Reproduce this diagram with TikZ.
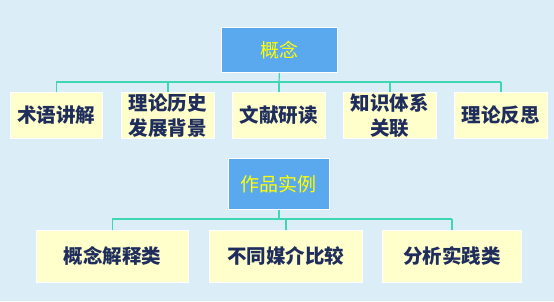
\documentclass[tikz,border=0pt]{standalone}
\usepackage{fontspec}
\newfontfamily\cjk{Noto Sans CJK SC}
\definecolor{bg}{HTML}{DBEEF8}
\definecolor{headfill}{HTML}{5AA8EE}
\definecolor{leaffill}{HTML}{FFFFCC}
\definecolor{linkc}{HTML}{3FD6B4}
\definecolor{txt}{HTML}{1F2D5C}
\definecolor{headtxt}{HTML}{FFFF00}
\tikzset{
  px/.style={x=1pt,y=-1pt},
  head/.style={draw=white,line width=0.8pt,fill=headfill,text=headtxt,font=\cjk\fontsize{19}{22}\selectfont,inner sep=0pt,anchor=north west},
  leaf/.style={draw=white,line width=0.8pt,fill=leaffill,text=txt,font=\cjk\bfseries\fontsize{19.5}{25}\selectfont,align=center,inner sep=0pt,anchor=north west},
  link/.style={draw=linkc,line width=1.2pt}
}
\begin{document}
\begin{tikzpicture}[px]
\fill[bg] (0,0) rectangle (554,301);
\useasboundingbox (0,0) rectangle (554,301);
% top tree
\node[head,minimum width=116pt,minimum height=45pt] (c) at (221,27) {概念};
\node[leaf,minimum width=92pt,minimum height=46pt] (a1) at (10,92) {术语讲解};
\node[leaf,minimum width=93pt,minimum height=46pt] (a2) at (121,92) {理论历史\\发展背景};
\node[leaf,minimum width=93pt,minimum height=46pt] (a3) at (232,92) {文献研读};
\node[leaf,minimum width=93pt,minimum height=46pt] (a4) at (343,92) {知识体系\\关联};
\node[leaf,minimum width=93pt,minimum height=46pt] (a5) at (454,92) {理论反思};
\coordinate (cj) at (279,82);
\draw[link] (c.south) -- (cj);
\foreach \n in {a1,a2,a3,a4,a5}{
  \draw[link] (\n.north) -- (\n.north |- cj);
}
\draw[link] (a1.north |- cj) -- (a5.north |- cj);
% bottom tree
\node[head,minimum width=101pt,minimum height=51pt] (w) at (228,158) {作品实例};
\node[leaf,minimum width=152pt,minimum height=52pt] (b1) at (36,230) {概念解释类};
\node[leaf,minimum width=153pt,minimum height=52pt] (b2) at (209,230) {不同媒介比较};
\node[leaf,minimum width=139pt,minimum height=52pt] (b3) at (382,230) {分析实践类};
\coordinate (wj) at (278,219);
\draw[link] (w.south) -- (w.south |- wj);
\foreach \n in {b1,b2,b3}{
  \draw[link] (\n.north) -- (\n.north |- wj);
}
\draw[link] (b1.north |- wj) -- (b3.north |- wj);
\end{tikzpicture}
\end{document}
